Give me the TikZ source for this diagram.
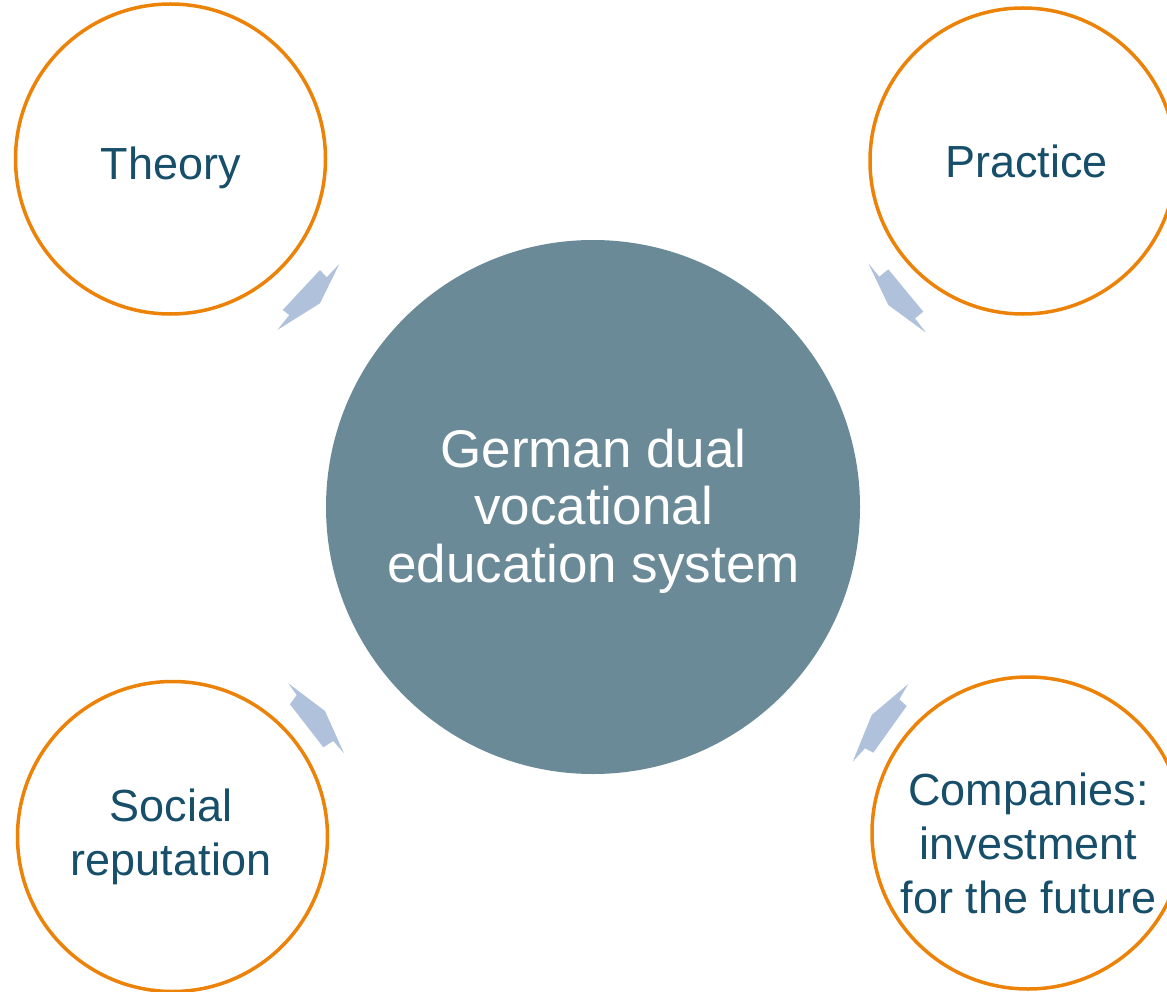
\documentclass[tikz,border=0pt]{standalone}
\usepackage{fontspec}
\setmainfont{Liberation Sans}
\definecolor{ringorange}{HTML}{EC8207}
\definecolor{hubfill}{HTML}{6B8A97}
\definecolor{txtblue}{HTML}{174F6A}
\definecolor{arrowblue}{HTML}{B0C1DC}
\begin{document}
\begin{tikzpicture}[x=1pt,y=-1pt,
  ring/.style={circle,draw=ringorange,line width=3.5pt,fill=white,minimum size=#1,inner sep=0pt},
  ringtext/.style={text=txtblue,align=center,font=\fontsize{45}{54}\selectfont,inner sep=0pt},
  hubtext/.style={text=white,align=center,font=\fontsize{53}{57.5}\selectfont,inner sep=0pt},
  blockarrow/.style={fill=arrowblue,draw=none}]
\useasboundingbox (0,0) rectangle (1167,992);
% hub
\node[circle,fill=hubfill,minimum size=534pt,inner sep=0pt] (hub) at (593,507) {};
\node[hubtext] (hubt) at (593.5,511) {German dual\\vocational\\education system};
% outer rings
\node[ring=310pt] (theory) at (170.5,159) {};
\node[ringtext] (theoryt) at (171,168) {Theory};
\node[ring=306pt] (practice) at (1023,161) {};
\node[ringtext] (practicet) at (1026.5,161.5) {Practice};
\node[ring=310pt] (social) at (172.5,836.5) {};
\node[ringtext] (socialt) at (171,837) {Social\\reputation};
\node[ring=312pt] (companies) at (1028,833) {};
\node[ringtext] (companiest) at (1028.5,843.5) {Companies:\\investment\\for the future};
% block arrows
\fill[blockarrow] (320,270) -- (326.7,277.3) -- (339.3,264) -- (320,303.3) -- (277.3,330) -- (289.3,315) -- (282.7,310) -- cycle;
\fill[blockarrow] (868.3,263.3) -- (888.3,305) -- (926,332.7) -- (915,318.3) -- (923.3,311.7) -- (888.3,269.3) -- (879.3,276.7) -- cycle;
\fill[blockarrow] (288.3,683.3) -- (325,711) -- (344,753.3) -- (333.3,741) -- (323.3,747.3) -- (290,704.3) -- (296.7,695) -- cycle;
\fill[blockarrow] (908.3,684) -- (899.3,699.3) -- (906.7,706) -- (873.3,752.7) -- (865,748.3) -- (852.7,761.7) -- (871.7,715) -- cycle;
\end{tikzpicture}
\end{document}
